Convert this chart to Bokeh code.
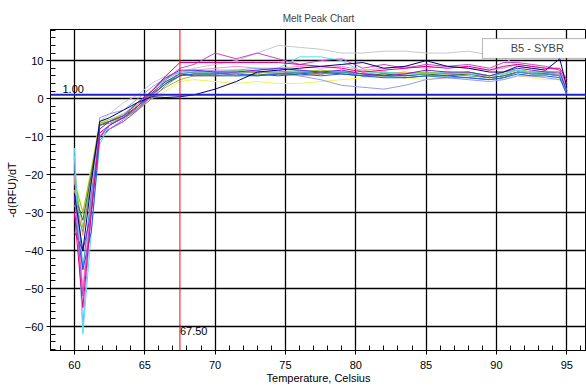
from bokeh.plotting import figure
from bokeh.models import Range1d, SingleIntervalTicker, Span, Label, BoxAnnotation
from bokeh.embed import file_html
from bokeh.resources import INLINE

temps = [60.0, 60.6, 61.2, 61.8, 62.5, 63.5, 64.5, 65.5, 66.5, 67.5, 68.5, 70.0, 71.5, 73.0, 74.5,
         76.0, 77.5, 79.0, 80.5, 82.0, 83.5, 85.0, 86.5, 88.0, 89.5, 90.5, 91.5, 92.5, 93.5, 94.5, 95.0]

crimson = [-30, -55, -30, -9, -7, -5, -2, 2, 6, 9.5, 9.5, 9.5, 9.5, 9.5, 9.5, 9, 8.5, 8, 7, 7.5, 8, 8.5, 8, 8.5, 7.5, 8.5, 9, 8.5, 8, 8, 5]
orchid = [-25, -52, -28, -10, -8, -6, -3, 1, 5, 8, 9, 12, 10.5, 12, 10.5, 9, 10, 10.5, 8, 9, 8, 9, 8.5, 9, 8, 9.5, 9.5, 9, 8.5, 7.5, 4]
silver = [-15, -45, -25, -6, -4, -1, 1, 4, 6, 7, 8, 9, 10, 12, 14, 13.5, 13, 12, 12, 12.5, 12.5, 12, 12, 12.5, 11.5, 11, 8.5, 8, 7.5, 6.5, 3]
cyan = [-13, -62, -35, -12, -7, -4, -1, 2, 5, 7, 7.5, 7, 7, 7.5, 8, 11, 11, 10, 7, 7, 6.5, 6.5, 7, 6.5, 6, 6.5, 7.5, 7, 7, 6.5, 1]
navy = [-25, -40, -22, -6, -5, -3, -1, 0.5, 0.3, 0.5, 1, 2.5, 4.5, 7, 7.5, 8, 8.5, 9, 9.5, 8, 8.5, 10, 8.5, 8, 7, 7, 8.5, 8, 7.5, 10.5, 3]
blue = [-30, -45, -35, -10, -7, -5, -2, 1, 4, 6, 6.5, 6.5, 6.5, 6, 6.5, 6.5, 6, 6.5, 6, 5.5, 5.5, 6, 6, 5.5, 5, 5.5, 6.5, 6, 6, 5.5, 1]
purple = [-35, -40, -30, -8, -6, -4.5, -1, 2, 5.5, 7.5, 7.5, 7, 7, 7.5, 8, 7.5, 7, 7.5, 6.5, 6, 6.5, 7.5, 7, 7, 6, 7, 8, 7.5, 7, 7, 2]
green = [-25, -32, -20, -7, -6, -4.5, -2, 1.5, 4.5, 6.5, 6, 6, 6, 6.5, 6, 6.5, 7, 6.5, 6, 6.5, 6, 6.5, 6, 6.5, 5.5, 6, 7, 6.5, 6.5, 6, 2]
olive = [-22, -30, -19, -6.5, -6, -5, -2.5, 0.5, 3, 5, 6, 6.5, 7, 7, 6.5, 7, 7.5, 7, 6.5, 7, 6.5, 7, 6.5, 7, 6, 6.5, 7.5, 7, 6.5, 6.5, 2]
yellow = [-20, -30, -18, -6, -5.5, -5, -3, 0, 2, 4.5, 5, 4.5, 4, 4.5, 4, 4, 4.5, 5, 5.5, 6, 5.5, 5, 6, 6.5, 5.5, 5, 6, 5.5, 5, 5, 3]
lavender = [-15, -60, -30, -5, -4, -3, 0, 3, 5.5, 7, 7, 7.5, 7.5, 8, 7.5, 6, 5, 3.5, 3, 2.5, 3.5, 5, 5.5, 5, 4.5, 5, 6, 6, 5.5, 5, 2]
steel = [-18, -45, -25, -11, -8, -5.5, -2.5, 1, 4, 6.5, 7, 7, 6, 6, 6.5, 7, 6.5, 7, 6, 6, 5.5, 6, 5.5, 5.5, 5, 5.5, 7, 6.5, 6.5, 6, 1]
grey = [-28, -35, -22, -7, -6.5, -5, -3, 0, 3.5, 6, 6.5, 6.5, 7, 7, 7, 7, 6.5, 7, 6.5, 6, 6, 6.5, 6.5, 6, 5.5, 6, 7, 7, 6.5, 6.5, 2]
orange = [-24, -36, -21, -7, -6, -4, -1.5, 1, 4, 6, 6.5, 6, 6.5, 7, 6.5, 6, 6.5, 7, 7.5, 6.5, 7, 6.5, 7, 6.5, 6, 6.5, 7.5, 7, 7, 6.5, 2]
pink = [-20, -50, -26, -9, -8, -6, -3, 0.5, 4, 7, 7.5, 8, 8.5, 8, 8, 8.5, 8, 8.5, 7.5, 8, 8.5, 8, 8.5, 8, 7.5, 8, 9, 8.5, 8, 7.5, 3]
lightgreen = [-21, -34, -20, -6.5, -5.5, -4, -1.5, 1.5, 4.5, 6.5, 7, 7, 7.5, 7, 7, 7.5, 7, 7, 6.5, 7, 6.5, 7, 6.5, 7, 6, 7, 7.5, 7, 7, 6.5, 2]

series = [
    (silver, "#c8c8c8"), (yellow, "#f2f25a"), (lightgreen, "#66dd66"), (orange, "#ff9933"),
    (pink, "#ff88cc"), (olive, "#99bb33"), (lavender, "#9999ee"), (grey, "#888888"),
    (green, "#336633"), (steel, "#3399cc"), (cyan, "#55ddee"), (purple, "#7722cc"),
    (blue, "#2255ee"), (orchid, "#cc44cc"), (crimson, "#dd0088"), (navy, "#000080"),
]

threshold = 1.00
marker_temp = 67.50

p = figure(width=586, height=388, output_backend="svg", toolbar_location=None,
           x_range=Range1d(58.3, 96.4), y_range=Range1d(-66.3, 18.2),
           min_border_left=50, min_border_right=0, min_border_top=29, min_border_bottom=38,
           title="Melt Peak Chart")
p.title.align = "center"
p.title.text_font = "Liberation Sans"
p.title.text_font_size = "10px"
p.title.text_font_style = "normal"
p.title.standoff = 11

p.background_fill_color = "white"
p.border_fill_color = "white"
p.outline_line_color = "black"

for ys, col in series:
    p.line(temps, ys, line_color=col, line_width=1)

p.add_layout(Span(location=threshold, dimension="width", line_color="#2222cc", line_width=2))
p.add_layout(Span(location=marker_temp, dimension="height", line_color="red", line_width=1))

p.add_layout(Label(x=59.15, y=1.4, text="%.2f" % threshold, text_font="Liberation Sans",
                   text_font_size="11px", text_baseline="bottom", text_color="black"))
p.add_layout(Label(x=marker_temp, y=-62.3, text="%.2f" % marker_temp, text_font="Liberation Sans",
                   text_font_size="11px", text_baseline="bottom", text_color="black"))

p.add_layout(BoxAnnotation(left=89.0, right=97.0, top=15.8, bottom=10.6, fill_color="white",
                           fill_alpha=1, line_color="black", line_width=1))
p.add_layout(Label(x=92.9, y=13.2, text="B5 - SYBR", text_font="Liberation Sans",
                   text_font_size="11px", text_align="center", text_baseline="middle"))

p.xaxis.ticker = SingleIntervalTicker(interval=5, num_minor_ticks=5)
p.yaxis.ticker = SingleIntervalTicker(interval=10, num_minor_ticks=5)
p.xgrid.ticker = SingleIntervalTicker(interval=5)
p.ygrid.ticker = SingleIntervalTicker(interval=10)
p.grid.grid_line_color = "black"
p.grid.grid_line_width = 1.3
p.grid.grid_line_alpha = 1

for ax in (p.xaxis, p.yaxis):
    ax.axis_line_color = "black"
    ax.major_tick_out = 4
    ax.major_tick_in = 0
    ax.minor_tick_in = 5
    ax.minor_tick_out = 0
    ax.major_tick_line_color = "black"
    ax.minor_tick_line_color = "black"
    ax.major_label_text_font = "Liberation Sans"
    ax.major_label_text_font_size = "11px"
    ax.major_label_text_color = "black"
    ax.axis_label_text_font = "Liberation Sans"
    ax.axis_label_text_font_size = "11px"
    ax.axis_label_text_font_style = "normal"
    ax.axis_label_text_color = "black"

p.xaxis.axis_label = "Temperature, Celsius"
p.yaxis.axis_label = "-d(RFU)/dT"
p.xaxis.axis_label_standoff = 0
p.yaxis.axis_label_standoff = 4
p.xaxis.major_label_standoff = 6
p.yaxis.major_label_standoff = 3

open("out.html", "w").write(file_html(p, INLINE))
